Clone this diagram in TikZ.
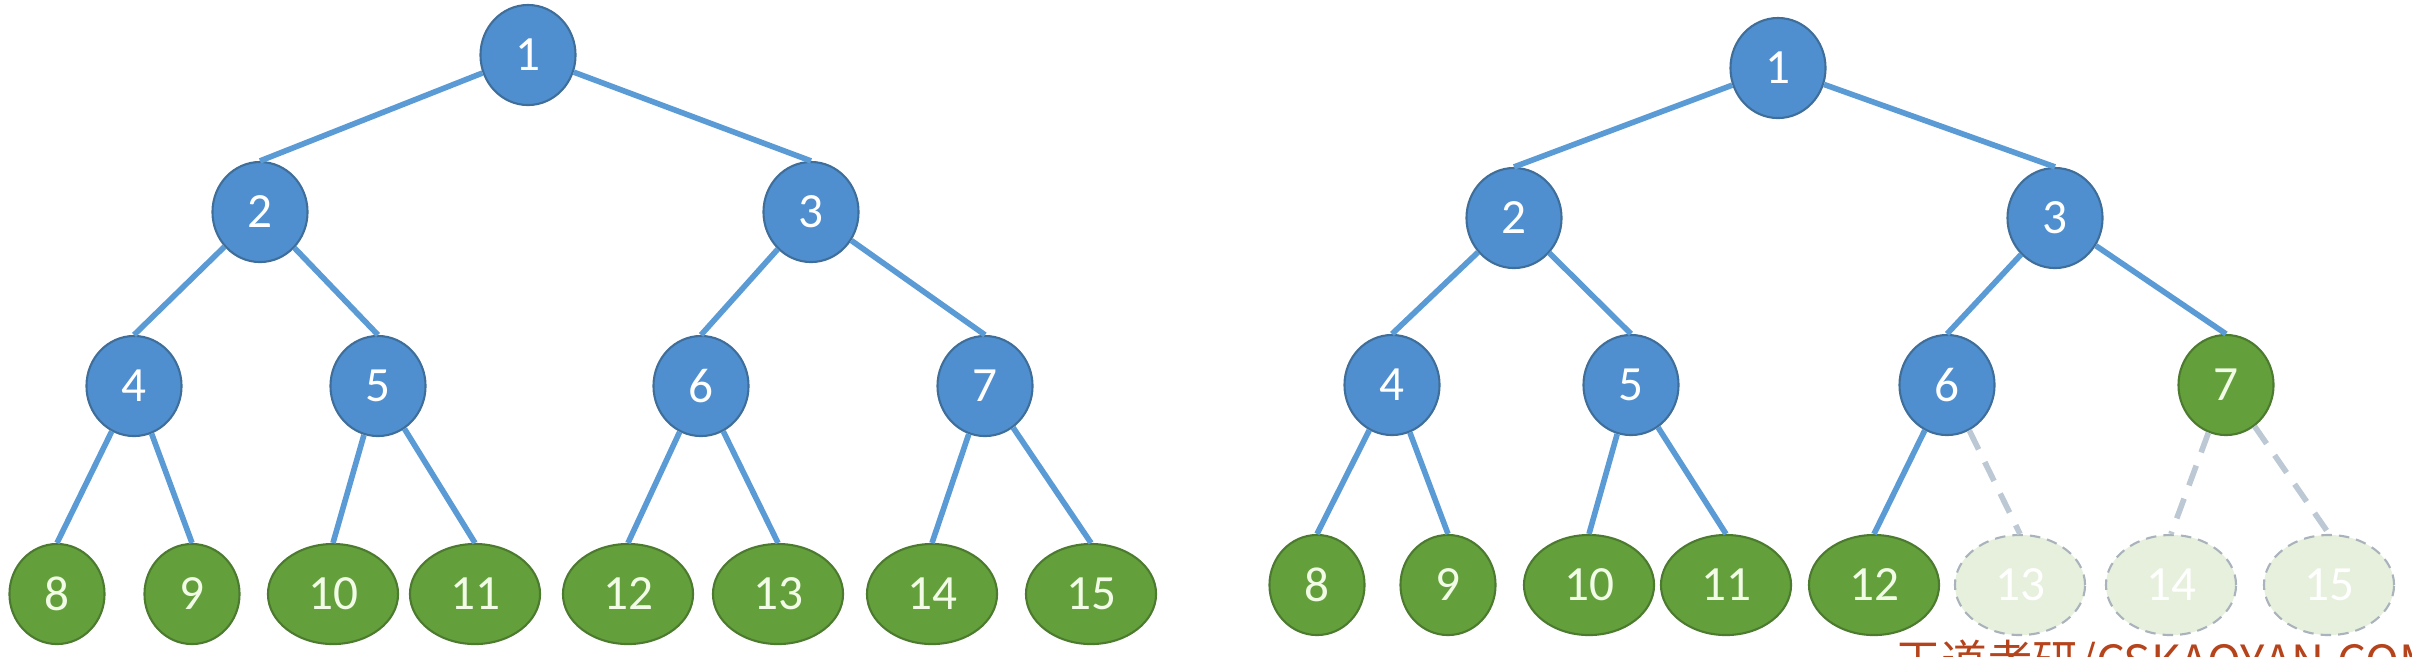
\documentclass[tikz,border=0pt]{standalone}
\usepackage{fontspec}
\setmainfont{Carlito}
\newfontfamily\cjk{Noto Sans CJK SC}
\usetikzlibrary{shapes.geometric}
\definecolor{nodeblue}{HTML}{4F8FCF}
\definecolor{blueline}{HTML}{3F6E9A}
\definecolor{edgeblue}{HTML}{5B9BD5}
\definecolor{leafgreen}{HTML}{63A03C}
\definecolor{greenline}{HTML}{4C7A2F}
\definecolor{paletext}{HTML}{F2FBE6}
\definecolor{fadegreen}{HTML}{E6F0DD}
\definecolor{fadeline}{HTML}{AAB3BC}
\definecolor{fadeedge}{HTML}{BCC8D4}
\definecolor{markred}{HTML}{B5441C}

\begin{document}
\begin{tikzpicture}[x=0.01cm,y=-0.01cm,
	inner node/.style={ellipse,draw=blueline,fill=nodeblue,line width=0.6pt,
		text=white,minimum width=0.95cm,minimum height=1cm,inner sep=0pt,
		font=\fontsize{14}{14}\selectfont},
	leaf node/.style={inner node,draw=greenline,fill=leafgreen,text=paletext},
	wide/.style={minimum width=1.3cm},
	ghost node/.style={leaf node,wide,dash pattern=on 3pt off 2pt,draw=fadeline,
		fill=fadegreen,text=white},
	every edge/.style={draw=edgeblue,line width=1.6pt},
	ghost edge/.style={draw=fadeedge,dash pattern=on 6pt off 4pt}]
\useasboundingbox (0,0) rectangle (2412,656);
% full tree
\node[inner node] (1) at (528,55) {1};
\node[inner node] (2) at (260,212) {2};
\node[inner node] (3) at (811,212) {3};
\node[inner node] (4) at (134,386) {4};
\node[inner node] (5) at (378,386) {5};
\node[inner node] (6) at (701,386) {6};
\node[inner node] (7) at (985,386) {7};
\node[leaf node] (8) at (57,594) {8};
\node[leaf node] (9) at (192,594) {9};
\node[leaf node,wide] (10) at (333,594) {10};
\node[leaf node,wide] (11) at (475,594) {11};
\node[leaf node,wide] (12) at (628,594) {12};
\node[leaf node,wide] (13) at (778,594) {13};
\node[leaf node,wide] (14) at (932,594) {14};
\node[leaf node,wide] (15) at (1091,594) {15};
\path
	(1) edge (2.north)
		edge (3.north)
	(2) edge (4.north)
		edge (5.north)
	(3) edge (6.north)
		edge (7.north)
	(4) edge (8.north)
		edge (9.north)
	(5) edge (10.north)
		edge (11.north)
	(6) edge (12.north)
		edge (13.north)
	(7) edge (14.north)
		edge (15.north);
% complete tree
\node[inner node] (r1) at (1778,68) {1};
\node[inner node] (r2) at (1514,218) {2};
\node[inner node] (r3) at (2055,218) {3};
\node[inner node] (r4) at (1392,385) {4};
\node[inner node] (r5) at (1631,385) {5};
\node[inner node] (r6) at (1947,385) {6};
\node[leaf node] (r7) at (2226,385) {7};
\node[leaf node] (r8) at (1317,585) {8};
\node[leaf node] (r9) at (1448,585) {9};
\node[leaf node,wide] (r10) at (1589,585) {10};
\node[leaf node,wide] (r11) at (1726,585) {11};
\node[leaf node,wide] (r12) at (1874,585) {12};
\node[ghost node] (r13) at (2020,585) {13};
\node[ghost node] (r14) at (2171,585) {14};
\node[ghost node] (r15) at (2329,585) {15};
\path
	(r1) edge (r2.north)
		edge (r3.north)
	(r2) edge (r4.north)
		edge (r5.north)
	(r3) edge (r6.north)
		edge (r7.north)
	(r4) edge (r8.north)
		edge (r9.north)
	(r5) edge (r10.north)
		edge (r11.north)
	(r6) edge (r12.north)
		edge [ghost edge] (r13.north)
	(r7) edge [ghost edge] (r14.north)
		edge [ghost edge] (r15.north);
\node[anchor=base west,inner sep=0pt,text=markred,font=\cjk\fontsize{13}{13}\selectfont]
	(mark) at (1895,678) {王道考研/CSKAOYAN.COM};
\end{tikzpicture}
\end{document}
